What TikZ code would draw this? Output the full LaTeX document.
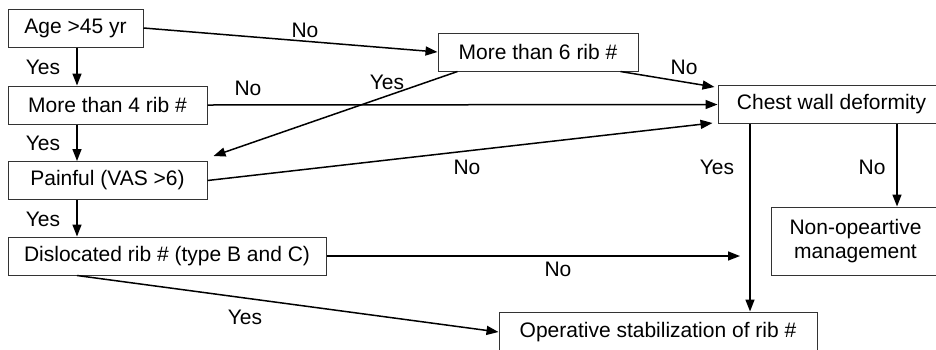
\documentclass[tikz,border=0pt]{standalone}
\usepackage{fontspec}
\setmainfont{Liberation Sans}
\usetikzlibrary{arrows.meta,positioning,calc}

\begin{document}
\begin{tikzpicture}[x=1pt,y=-1pt,
  box/.style={draw=black!80, line width=1pt, minimum height=38pt, inner sep=0pt, font=\fontsize{21}{24}\selectfont},
  arr/.style={-{Triangle[length=12pt,width=9pt]}, line width=1.5pt},
  lbl/.style={font=\fontsize{21}{24}\selectfont, inner sep=0pt}]
\useasboundingbox (0,0) rectangle (936,349);

% Decision boxes
\node[box, minimum width=135pt] (age) at (75.5,28) {Age >45 yr};
\node[box, minimum width=200pt] (six) at (538,52) {More than 6 rib \#};
\node[box, minimum width=199pt] (four) at (107.5,105) {More than 4 rib \#};
\node[box, minimum width=227pt] (chest) at (831.5,104.5) {Chest wall deformity};
\node[box, minimum width=199pt] (pain) at (107.5,180.5) {Painful (VAS >6)};
\node[box, minimum width=318pt] (disl) at (167,256) {Dislocated rib \# (type B and C)};

% Outcomes
\node[box, minimum width=169pt, minimum height=68pt, align=center] (nonop) at (855.5,241) {Non-opeartive\\management};
\node[box, minimum width=318pt, minimum height=40pt] (oper) at (658,332) {Operative stabilization of rib \#};
\coordinate (open) at (740,256);

% Connectors
\draw[arr] (age.east) -- (six.west);
\draw[arr] (age.south -| 77,0) -- (four.north -| 77,0);
\draw[arr] (four.south -| 77,0) -- (pain.north -| 77,0);
\draw[arr] (pain.south -| 77,0) -- (disl.north -| 77,0);
\draw[arr] ($(six.south west)+(20,0)$) -- ($(pain.north east)+(6,-5)$);
\draw[arr] ($(six.south east)+(-18,0)$) -- ($(chest.north west)+(-3,2)$);
\draw[arr] (four.east) -- (chest.west);
\draw[arr] (pain.east) -- ($(chest.south west)+(-5,-1)$);
\draw[arr] (disl.east) -- (open);
\draw[arr] (disl.south -| 77,0) -- (oper.west);
\draw[arr] (chest.south -| 750,0) -- (oper.north -| 750,0);
\draw[arr] (chest.south -| 897,0) -- (nonop.north -| 897,0);

% Yes / No labels
\node[lbl] (n1) at (305,30) {No};
\node[lbl] (y1) at (43,67) {Yes};
\node[lbl] (y2) at (387,82) {Yes};
\node[lbl] (n2) at (684,67) {No};
\node[lbl] (n3) at (248,88) {No};
\node[lbl] (y3) at (43,143) {Yes};
\node[lbl] (n4) at (467,167) {No};
\node[lbl] (y4) at (717,167) {Yes};
\node[lbl] (n5) at (872,167) {No};
\node[lbl] (y5) at (43,219) {Yes};
\node[lbl] (n6) at (558,269) {No};
\node[lbl] (y6) at (245,317) {Yes};

\end{tikzpicture}
\end{document}
